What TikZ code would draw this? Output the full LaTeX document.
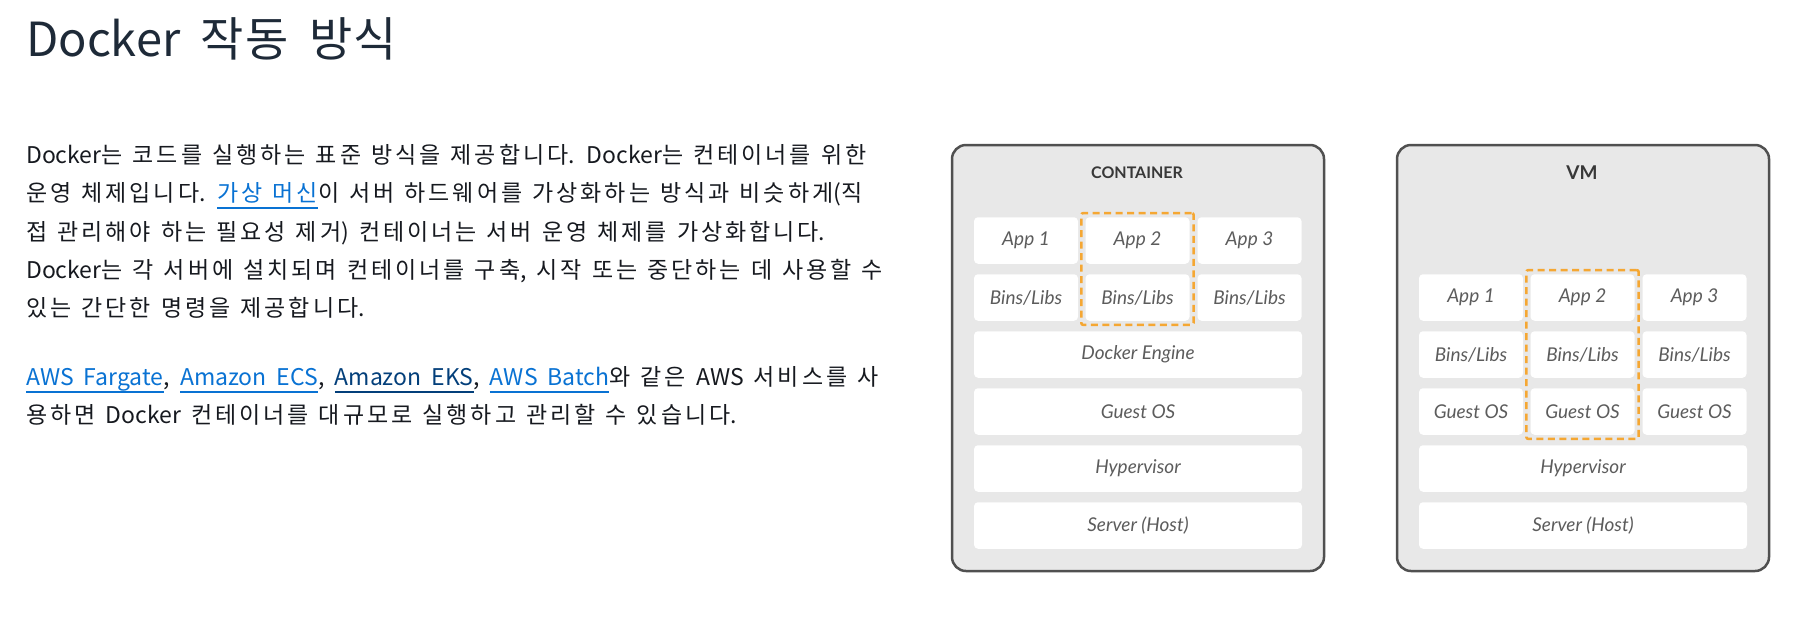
\documentclass[tikz,border=0pt]{standalone}
\usepackage{fontspec}
\usetikzlibrary{fit}
\setmainfont{Noto Sans CJK KR}[WordSpace=1.95]
\newfontfamily\diafont{Lato}
\definecolor{bodytext}{HTML}{16191F}
\definecolor{headtext}{HTML}{1E2A38}
\definecolor{awslink}{HTML}{0972D3}
\definecolor{awsvisited}{HTML}{033F7A}
\definecolor{panelline}{HTML}{505050}
\definecolor{panelfill}{HTML}{E8E8E8}
\definecolor{layertext}{HTML}{5C5C5C}
\definecolor{pickline}{HTML}{F5A733}
% a little extra room between hangul syllables
\XeTeXinterchartokenstate=1
\newXeTeXintercharclass\hanclass
\count255="AC00
\loop
	\XeTeXcharclass\count255=\hanclass
	\advance\count255 by 1
\ifnum\count255<"D7A4 \repeat
\newcommand{\hantrack}{0.13em}
\newcommand{\hankern}{\kern\hantrack}
\XeTeXinterchartoks\hanclass\hanclass={\hankern}
\newsavebox{\lnkbox}
\newcommand{\lnkline}[2]{\sbox{\lnkbox}{#2}\textcolor{#1}{\rlap{\rule[-7.5pt]{\wd\lnkbox}{2pt}}#2}}
\newcommand{\awslnk}[1]{\lnkline{awslink}{#1}}
\newcommand{\awsvis}[1]{\lnkline{awsvisited}{#1}}
\begin{document}
\begin{tikzpicture}[x=1pt,y=-1pt,line join=round,
	bodyline/.style={anchor=base west,inner sep=0,text=bodytext,font=\fontsize{23}{28}\selectfont},
	panel/.style={draw=panelline,line width=2.5pt,fill=panelfill,rounded corners=14pt,minimum width=372pt,minimum height=426pt},
	paneltitle/.style={text=black!78,font=\diafont\bfseries\fontsize{16}{18}\selectfont},
	layer/.style={fill=white,rounded corners=4pt,inner sep=0,text=layertext,font=\diafont\itshape\fontsize{19}{22}\selectfont,minimum height=46.5pt},
	cell/.style={layer,minimum width=104pt},
	wide/.style={layer,minimum width=328pt},
	pick/.style={draw=pickline,line width=2.5pt,dash pattern=on 7pt off 4.5pt,rounded corners=2pt,inner sep=4pt}]
	\useasboundingbox (0,0) rectangle (1798,622);
	
	\node[anchor=base west,inner sep=0,text=headtext,font=\def\hantrack{0.03em}\fontsize{47}{51}\selectfont] (heading) at (26,56) {Docker 작동 방식};
	
	\node[bodyline] (line1) at (26,163.3) {Docker는 코드를 실행하는 표준 방식을 제공합니다. Docker는 컨테이너를 위한};
	\node[bodyline] (line2) at (26,201.7) {운영 체제입니다. \awslnk{가상 머신}이 서버 하드웨어를 가상화하는 방식과 비슷하게(직};
	\node[bodyline] (line3) at (26,240) {접 관리해야 하는 필요성 제거) 컨테이너는 서버 운영 체제를 가상화합니다.};
	\node[bodyline] (line4) at (26,278.3) {Docker는 각 서버에 설치되며 컨테이너를 구축, 시작 또는 중단하는 데 사용할 수};
	\node[bodyline] (line5) at (26,316.7) {있는 간단한 명령을 제공합니다.};
	\node[bodyline] (line6) at (26,385) {\awslnk{AWS Fargate}, \awslnk{Amazon ECS}, \awsvis{Amazon EKS}, \awslnk{AWS Batch}와 같은 AWS 서비스를 사};
	\node[bodyline] (line7) at (26,423.3) {용하면 Docker 컨테이너를 대규모로 실행하고 관리할 수 있습니다.};
	
	% container stack
	\node[panel] (cpanel) at (1138,358) {};
	\node[paneltitle] (ctitle) at (1137,173) {CONTAINER};
	\foreach \i/\xc/\lab in {1/1026/App 1,2/1137.5/App 2,3/1249.5/App 3} {
		\node[cell] (capp\i) at (\xc,240.5) {\lab};
		\node[cell] (cbins\i) at (\xc,297.5) {Bins/Libs};
	}
	\node[wide] (cengine) at (1138,354.5) {Docker Engine};
	\node[wide] (cguest) at (1138,411.5) {Guest OS};
	\node[wide] (chyper) at (1138,468.5) {Hypervisor};
	\node[wide] (cserver) at (1138,525.5) {Server (Host)};
	\node[pick,fit=(capp2)(cbins2)] (cpick) {};
	
	% vm stack
	\node[panel] (vpanel) at (1583,358) {};
	\node[paneltitle,font=\diafont\bfseries\fontsize{19}{21}\selectfont] (vtitle) at (1582,173) {VM};
	\foreach \i/\xc/\lab in {1/1471/App 1,2/1582.5/App 2,3/1694.5/App 3} {
		\node[cell] (vapp\i) at (\xc,297.5) {\lab};
		\node[cell] (vbins\i) at (\xc,354.5) {Bins/Libs};
		\node[cell] (vguest\i) at (\xc,411.5) {Guest OS};
	}
	\node[wide] (vhyper) at (1583,468.5) {Hypervisor};
	\node[wide] (vserver) at (1583,525.5) {Server (Host)};
	\node[pick,fit=(vapp2)(vguest2)] (vpick) {};
\end{tikzpicture}
\end{document}
